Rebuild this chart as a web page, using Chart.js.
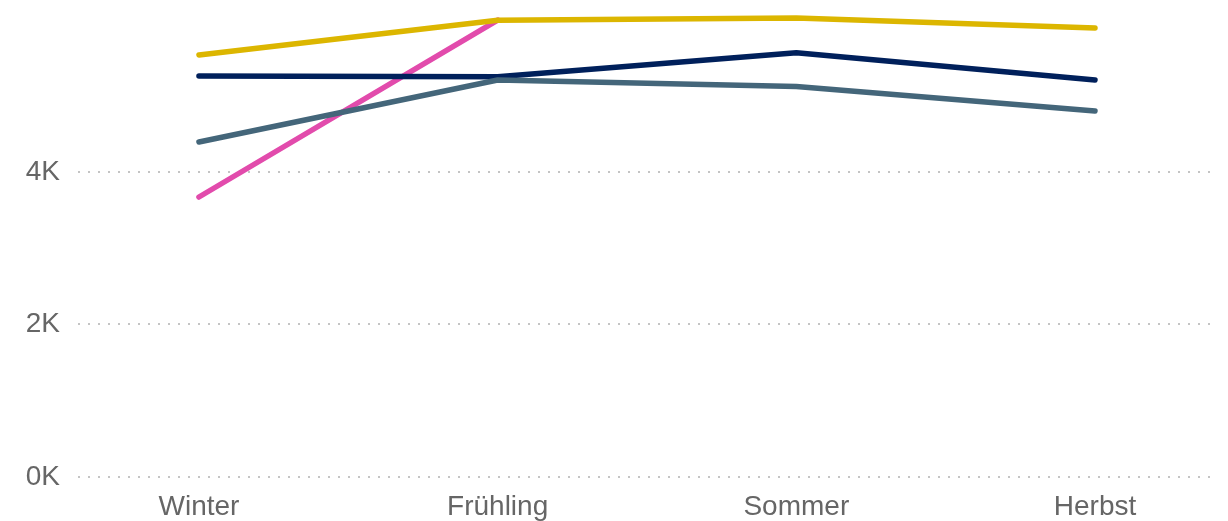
<!DOCTYPE html>
<html>
<head>
<meta charset="utf-8">
<script src="https://cdn.jsdelivr.net/npm/chart.js@4"></script>
<style>
html,body{margin:0;padding:0;background:#fff;}
#wrap{width:1228px;height:521px;}
</style>
</head>
<body>
<div id="wrap"><canvas id="c" width="1228" height="521"></canvas></div>
<script>
const categories = ["Winter", "Frühling", "Sommer", "Herbst"];
const seriesYellow = [5534, 5990, 6020, 5889];
const seriesNavy = [5259, 5250, 5565, 5207];
const seriesTeal = [4393, 5207, 5120, 4800];
const seriesPink = [3672, 5993, null, null];
const yTickValues = [0, 2000, 4000];
const yTickLabels = ["0K", "2K", "4K"];

const toPoints = arr => arr.map((v, i) => ({x: i, y: v}));
const mk = (data, color) => ({
  data: toPoints(data),
  borderColor: color,
  backgroundColor: color,
  borderWidth: 5.5,
  borderCapStyle: 'round',
  borderJoinStyle: 'round',
  pointRadius: 0,
  pointHoverRadius: 0,
  tension: 0,
  spanGaps: false,
  clip: false
});

new Chart(document.getElementById('c'), {
  type: 'line',
  data: {
    datasets: [
      mk(seriesTeal, '#44667a'),
      mk(seriesNavy, '#00205b'),
      mk(seriesYellow, '#dcb600'),
      mk(seriesPink, '#e24bac')
    ]
  },
  options: {
    responsive: false,
    animation: false,
    layout: {padding: {top: 5, right: 18, left: 0, bottom: 0}},
    plugins: {legend: {display: false}, tooltip: {enabled: false}},
    scales: {
      x: {
        type: 'linear',
        min: -0.405,
        max: 3.385,
        grid: {display: false},
        border: {display: false},
        afterBuildTicks: s => { s.ticks = categories.map((c, i) => ({value: i})); },
        afterFit: s => { s.height = 44; s.paddingLeft = 0; s.paddingRight = 0; },
        ticks: {
          autoSkip: false,
          maxRotation: 0,
          padding: 5,
          color: '#666666',
          font: {family: 'Liberation Sans, Arial, sans-serif', size: 28},
          callback: v => categories[v]
        }
      },
      y: {
        min: 0,
        max: 6190,
        grid: {color: '#c4c4c4', lineWidth: 2, drawTicks: false},
        border: {display: false, dash: [2, 8]},
        afterBuildTicks: s => { s.ticks = yTickValues.map(v => ({value: v})); },
        afterFit: s => { s.width = 78; s.paddingTop = 0; s.paddingBottom = 0; },
        ticks: {
          padding: 18,
          color: '#666666',
          font: {family: 'Liberation Sans, Arial, sans-serif', size: 28},
          callback: v => yTickLabels[yTickValues.indexOf(v)]
        }
      }
    }
  }
});
</script>
</body>
</html>
